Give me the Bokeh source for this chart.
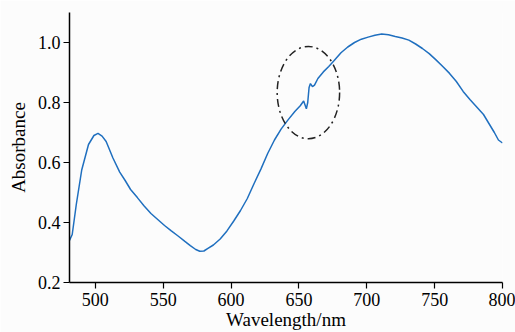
from bokeh.plotting import figure
from bokeh.models import Range1d, FixedTicker
from bokeh.embed import file_html
from bokeh.resources import INLINE

wavelength = [481, 483, 486, 490, 495, 499, 502, 505, 508, 513, 518, 522, 526, 531, 536,
              541, 546, 551, 556, 561, 566, 570, 574, 577, 580, 583, 587, 592, 597, 602,
              607, 612, 617, 622, 627, 632, 637, 642, 647, 651, 653.5, 655.5, 656.5, 657.5,
              658.5, 660, 661.5, 664, 668, 672, 676, 681, 686, 691, 696, 701, 706, 711,
              716, 721, 726, 731, 736, 741, 746, 751, 756, 761, 766, 771, 776, 781, 786,
              790, 794, 797, 800]
absorbance = [0.34, 0.36, 0.46, 0.575, 0.66, 0.69, 0.697, 0.688, 0.67, 0.615, 0.568, 0.54,
              0.51, 0.483, 0.455, 0.43, 0.41, 0.39, 0.372, 0.355, 0.337, 0.323, 0.31, 0.304,
              0.305, 0.314, 0.325, 0.345, 0.372, 0.405, 0.44, 0.48, 0.53, 0.578, 0.63, 0.675,
              0.712, 0.742, 0.77, 0.789, 0.805, 0.779, 0.80, 0.85, 0.863, 0.853, 0.858, 0.88,
              0.902, 0.92, 0.94, 0.966, 0.985, 1.0, 1.011, 1.018, 1.024, 1.028, 1.026, 1.02,
              1.015, 1.008, 0.995, 0.98, 0.963, 0.942, 0.92, 0.897, 0.87, 0.837, 0.81, 0.785,
              0.76, 0.73, 0.70, 0.675, 0.665]

x_ticks = [500, 550, 600, 650, 700, 750, 800]
y_ticks = [0.2, 0.4, 0.6, 0.8, 1.0]

# highlighted region (ellipse)
ell_x, ell_y, ell_w, ell_h = [657], [0.833], [46], [0.308]

BG = "#fcfcfc"
FONT = "'Liberation Serif'"

p = figure(width=515, height=332, output_backend="svg", toolbar_location=None,
           x_range=Range1d(481, 800), y_range=Range1d(0.2, 1.1),
           background_fill_color=BG, border_fill_color=BG,
           min_border_left=69, min_border_right=13, min_border_top=12, min_border_bottom=48)
p.outline_line_color = None
p.grid.grid_line_color = None

p.line(wavelength, absorbance, line_color="#1f6fbf", line_width=1.5)
p.ellipse(x=ell_x, y=ell_y, width=ell_w, height=ell_h, fill_alpha=0,
          line_color="#222222", line_width=1.5, line_dash="8 4 2 4")

for ax in (p.xaxis[0], p.yaxis[0]):
    ax.axis_line_color = "black"
    ax.axis_line_width = 1.5
    ax.major_tick_line_color = "black"
    ax.major_tick_line_width = 1.2
    ax.major_tick_in = 0
    ax.major_tick_out = 6
    ax.minor_tick_line_color = None
    ax.major_label_text_font = FONT
    ax.major_label_text_font_size = "18px"
    ax.major_label_text_color = "black"
    ax.axis_label_text_font = FONT
    ax.axis_label_text_font_size = "19px"
    ax.axis_label_text_font_style = "normal"
    ax.axis_label_text_color = "black"

p.xaxis.ticker = FixedTicker(ticks=x_ticks)
p.yaxis.ticker = FixedTicker(ticks=y_ticks)
p.yaxis.major_label_overrides = {t: f"{t:.1f}" for t in y_ticks}
p.xaxis.major_label_standoff = 4
p.yaxis.major_label_standoff = 3
p.yaxis.axis_label = "Absorbance"
p.yaxis.axis_label_standoff = 6
p.xaxis.axis_label = "Wavelength/nm"
p.xaxis.axis_label_standoff = 0

open("out.html", "w").write(file_html(p, INLINE))
